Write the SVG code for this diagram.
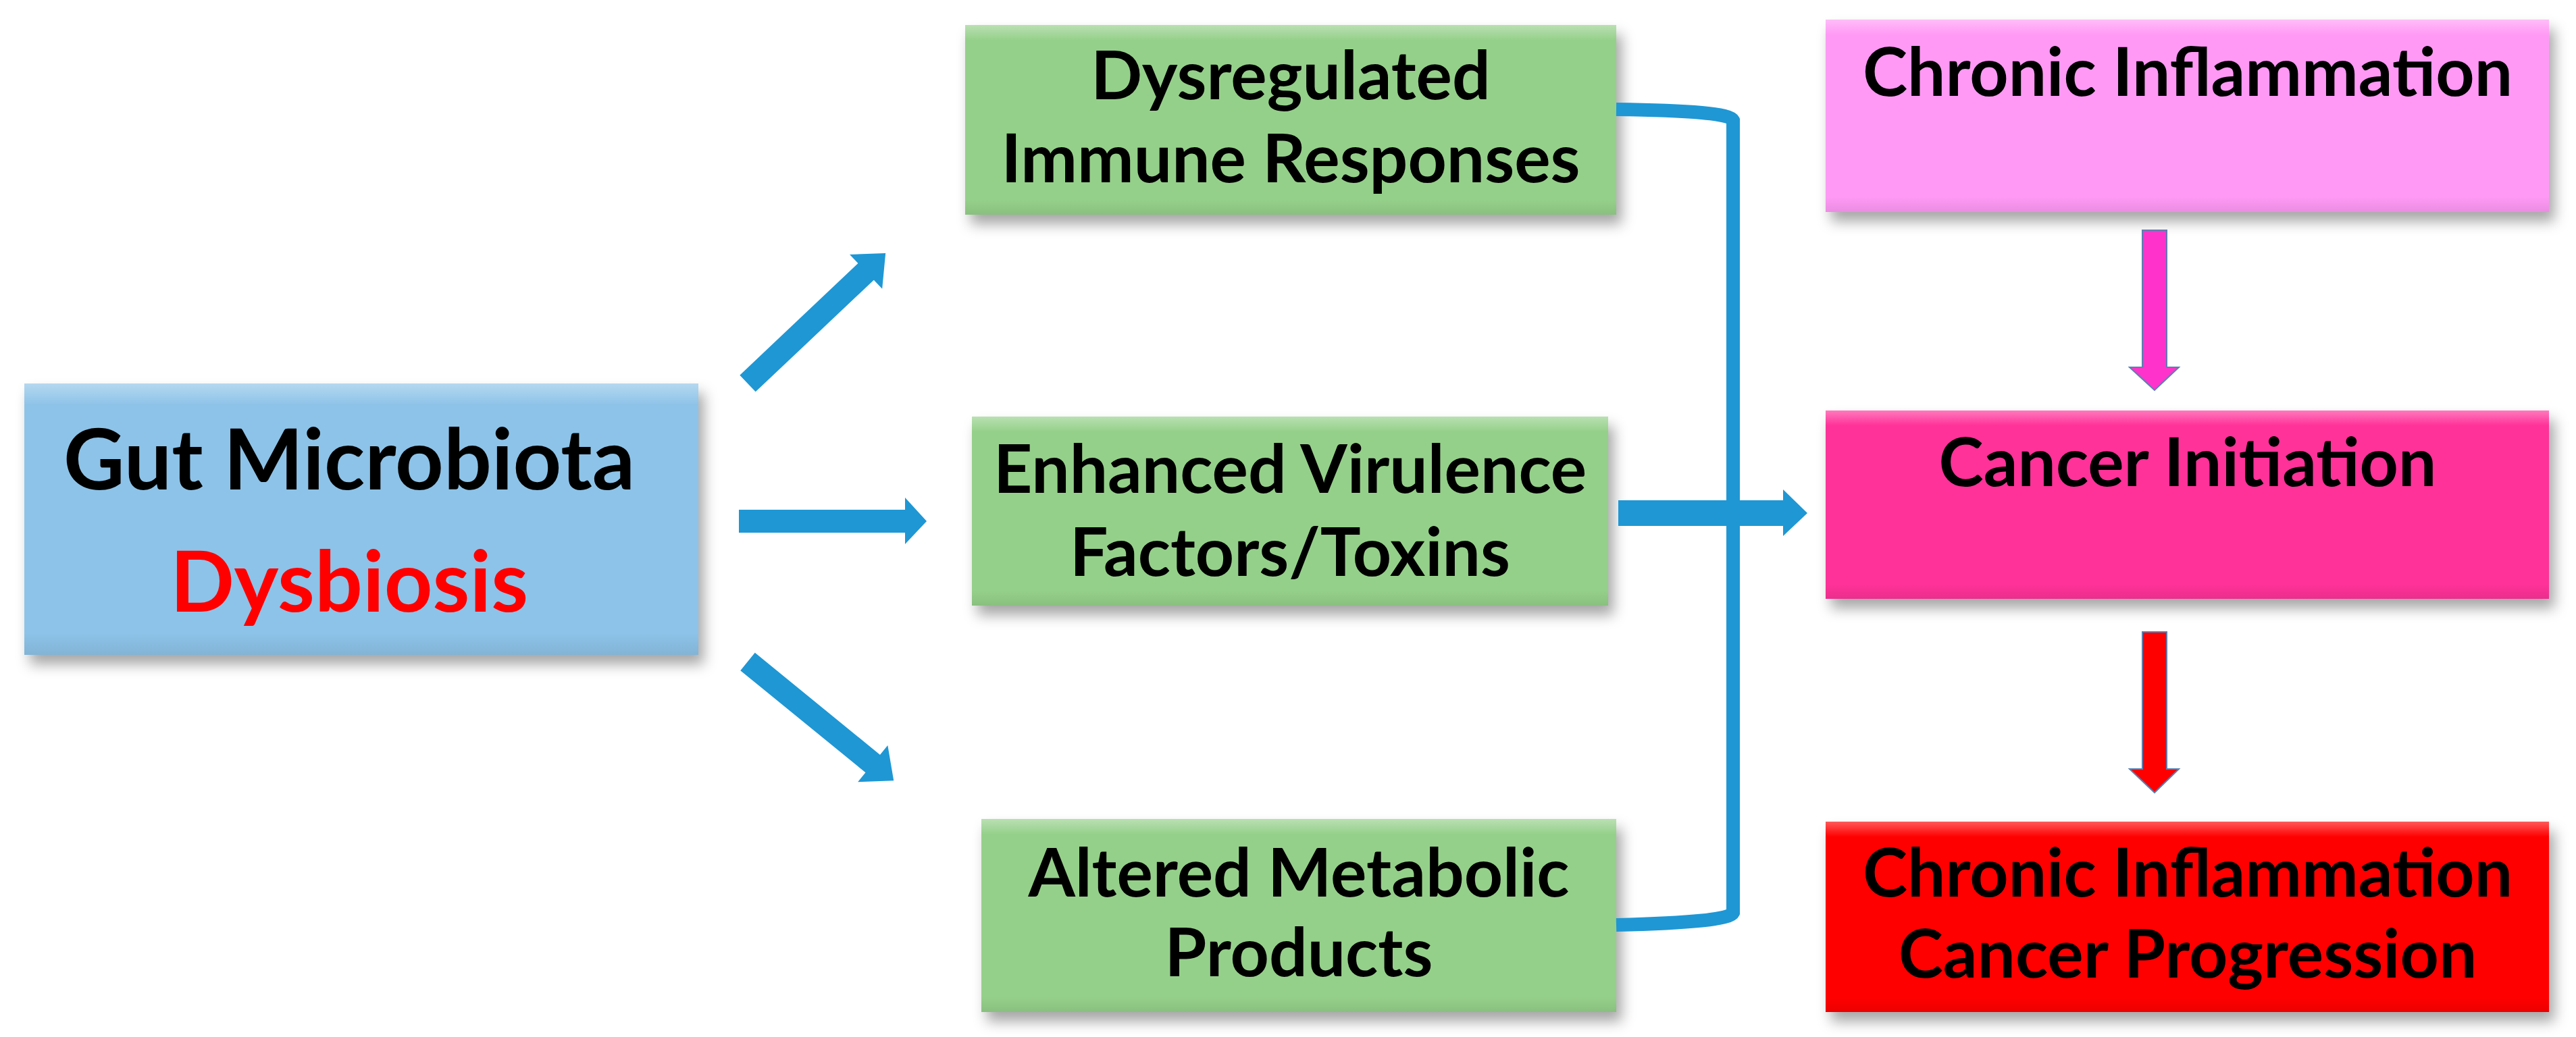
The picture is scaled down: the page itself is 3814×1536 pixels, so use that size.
<svg xmlns="http://www.w3.org/2000/svg" width="3814" height="1536" viewBox="0 0 3814 1536">
<defs>
<filter id="sh" x="-10%" y="-10%" width="130%" height="140%"><feDropShadow dx="8" dy="14" stdDeviation="10" flood-color="#000" flood-opacity="0.35"/></filter>
<linearGradient id="bev" x1="0" y1="0" x2="0" y2="1"><stop offset="0" stop-color="#fff" stop-opacity="0.35"/><stop offset="0.08" stop-color="#fff" stop-opacity="0"/><stop offset="0.92" stop-color="#000" stop-opacity="0"/><stop offset="1" stop-color="#000" stop-opacity="0.08"/></linearGradient>
</defs>
<style>
.t{font-family:Lato,"Liberation Sans",sans-serif;font-weight:bold;text-anchor:middle;fill:#000}
.g{fill:#95d08a}
.bl{fill:#1f97d4}
</style>
<g id="gut">
<rect x="36" y="568" width="998" height="402" fill="#8dc3e8" filter="url(#sh)"/>
<rect x="36" y="568" width="998" height="402" fill="url(#bev)"/>
<text class="t" x="517" y="725" font-size="125">Gut Microbiota</text>
<text class="t" x="517" y="906" font-size="125" style="fill:#ff0000">Dysbiosis</text>
</g>
<g id="immune">
<rect class="g" x="1429" y="37" width="964" height="281" filter="url(#sh)"/>
<rect x="1429" y="37" width="964" height="281" fill="url(#bev)"/>
<text class="t" x="1911" y="147" font-size="100">Dysregulated</text>
<text class="t" x="1911" y="270" font-size="100">Immune Responses</text>
</g>
<g id="virulence">
<rect class="g" x="1439" y="617" width="942" height="280" filter="url(#sh)"/>
<rect x="1439" y="617" width="942" height="280" fill="url(#bev)"/>
<text class="t" x="1910" y="730" font-size="100">Enhanced Virulence</text>
<text class="t" x="1910" y="853" font-size="100">Factors/Toxins</text>
</g>
<g id="metabolic">
<rect class="g" x="1453" y="1213" width="940" height="286" filter="url(#sh)"/>
<rect x="1453" y="1213" width="940" height="286" fill="url(#bev)"/>
<text class="t" x="1923" y="1328" font-size="100">Altered Metabolic</text>
<text class="t" x="1923" y="1446" font-size="100">Products</text>
</g>
<g id="chronic">
<rect x="2703" y="29" width="1071" height="285" fill="#ff99f5" filter="url(#sh)"/>
<rect x="2703" y="29" width="1071" height="285" fill="url(#bev)"/>
<text class="t" x="3239" y="142" font-size="100">Chronic Inflammation</text>
</g>
<g id="initiation">
<rect x="2703" y="608" width="1071" height="279" fill="#ff3399" filter="url(#sh)"/>
<rect x="2703" y="608" width="1071" height="279" fill="url(#bev)"/>
<text class="t" x="3239" y="720" font-size="100">Cancer Initiation</text>
</g>
<g id="progression">
<rect x="2703" y="1217" width="1071" height="282" fill="#ff0000" filter="url(#sh)"/>
<rect x="2703" y="1217" width="1071" height="282" fill="url(#bev)"/>
<text class="t" x="3239" y="1328" font-size="100">Chronic Inflammation</text>
<text class="t" x="3239" y="1448" font-size="100">Cancer Progression</text>
</g>
<g id="connectors">
<polygon class="bl" transform="translate(1107,568) rotate(-43.4)" points="0,-17 241,-17 241,-35 281,0 241,35 241,17 0,17"/>
<polygon class="bl" points="1094,755 1340,755 1340,737 1372,772 1340,806 1340,789 1094,789"/>
<polygon class="bl" transform="translate(1107,980) rotate(39.2)" points="0,-17 239,-17 239,-35 279,0 239,35 239,17 0,17"/>
<path d="M2393,162 Q2560,164 2566,178 L2566,1352 Q2560,1366 2393,1370" fill="none" stroke="#1f97d4" stroke-width="20"/>
<polygon class="bl" points="2396,741 2640,741 2640,725 2676,760 2640,794 2640,779 2396,779"/>
<polygon fill="#ff33cc" stroke="#5b7fb0" stroke-width="2" points="3172,341 3208,341 3208,544 3226,544 3190,578 3153,544 3172,544"/>
<polygon fill="#ff0000" stroke="#5b7fb0" stroke-width="2" points="3172,936 3208,936 3208,1139 3226,1139 3190,1174 3153,1139 3172,1139"/>
</g>
</svg>
